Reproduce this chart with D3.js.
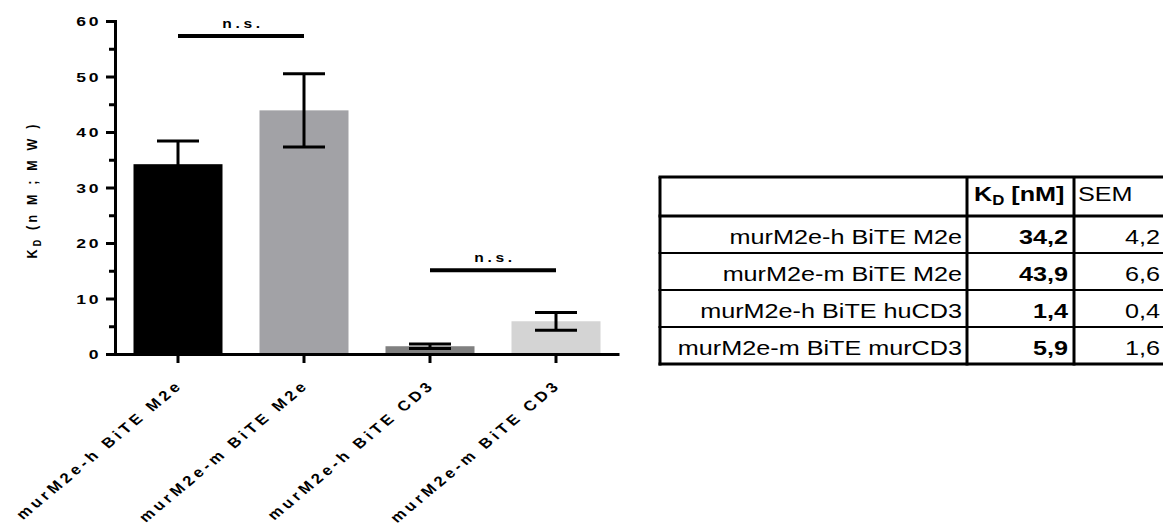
<!DOCTYPE html>
<html>
<head>
<meta charset="utf-8">
<script src="https://cdn.jsdelivr.net/npm/d3@7/dist/d3.min.js"></script>
<style>
  body { margin: 0; background: #fff; }
  svg { display: block; }
  text { font-family: "Liberation Sans", Arial, sans-serif; fill: #000; }
</style>
</head>
<body>
<svg id="chart" width="1163" height="529"></svg>
<script>
// Binding data: K_D per construct with SEM
const categories = ["murM2e-h BiTE M2e", "murM2e-m BiTE M2e", "murM2e-h BiTE CD3", "murM2e-m BiTE CD3"];
const kdValues = [34.2, 43.9, 1.4, 5.9];
const semValues = [4.2, 6.6, 0.4, 1.6];
const barColors = ["#000000", "#a2a2a6", "#808080", "#d4d4d4"];
const yTicks = [0, 10, 20, 30, 40, 50, 60];
const yMinorTicks = [5, 15, 25, 35, 45, 55];

// Significance brackets (pairs of category indices)
const sigPairs = [[0, 1], [2, 3]];
const sigLevels = [57.3, 15.1];
const sigLabels = ["n.s.", "n.s."];

// Summary table
const tableHeader = ["", "K", "SEM"];
const tableRows = ["murM2e-h BiTE M2e", "murM2e-m BiTE M2e", "murM2e-h BiTE huCD3", "murM2e-m BiTE murCD3"];
const tableKd = ["34,2", "43,9", "1,4", "5,9"];
const tableSem = ["4,2", "6,6", "0,4", "1,6"];

// Text in this figure is set slightly wide
const SX = 1.2;

const svg = d3.select("#chart");

const x = d3.scaleBand()
  .domain(categories)
  .range([115, 619])
  .paddingInner(37 / 126)
  .paddingOuter(37 / 252);

const y = d3.scaleLinear().domain([0, 60]).range([354, 21]);

const cx = i => x(categories[i]) + x.bandwidth() / 2;

// Bars
svg.append("g").selectAll("rect")
  .data(kdValues)
  .join("rect")
  .attr("x", (d, i) => x(categories[i]))
  .attr("width", x.bandwidth())
  .attr("y", d => y(d))
  .attr("height", d => y(0) - y(d))
  .attr("fill", (d, i) => barColors[i]);

// Error bars
const eb = svg.append("g").attr("stroke", "#000").attr("stroke-width", 3).attr("fill", "none");
kdValues.forEach((d, i) => {
  const hi = y(d + semValues[i]), lo = y(d - semValues[i]), c = cx(i);
  eb.append("line").attr("x1", c).attr("x2", c).attr("y1", hi).attr("y2", lo);
  eb.append("line").attr("x1", c - 21).attr("x2", c + 21).attr("y1", hi).attr("y2", hi);
  eb.append("line").attr("x1", c - 21).attr("x2", c + 21).attr("y1", lo).attr("y2", lo);
});

// Y axis: minor ticks, then major ticks with labels
const yMinor = svg.append("g").attr("transform", "translate(115,0)")
  .call(d3.axisLeft(y).tickValues(yMinorTicks).tickSize(6).tickSizeOuter(0).tickFormat(""));
const yMajor = svg.append("g").attr("transform", "translate(115,0)")
  .call(d3.axisLeft(y).tickValues(yTicks).tickSize(9).tickSizeOuter(0));
[yMinor, yMajor].forEach(g => {
  g.selectAll("path, line").attr("stroke", "#000").attr("stroke-width", 3);
  g.select(".domain").attr("stroke-linecap", "square");
});
yMajor.selectAll("text")
  .attr("x", 0)
  .attr("dy", "0.36em")
  .attr("transform", `translate(-14,0) scale(${SX + 0.1},1)`)
  .attr("font-family", "'Liberation Sans', Arial, sans-serif")
  .attr("font-size", 13.5).attr("font-weight", "bold")
  .attr("letter-spacing", 2).attr("fill", "#000");

// X axis
const xAxis = svg.append("g").attr("transform", "translate(0,354)")
  .call(d3.axisBottom(x).tickSize(9).tickSizeOuter(0).tickFormat(""));
xAxis.selectAll("path, line").attr("stroke", "#000").attr("stroke-width", 3);
xAxis.selectAll(".tick").append("text")
  .attr("transform", `translate(6,32) scale(${SX},1) rotate(-45)`)
  .attr("text-anchor", "end")
  .attr("fill", "#000")
  .attr("font-family", "'Liberation Sans', Arial, sans-serif")
  .attr("font-size", 14).attr("font-weight", "bold")
  .attr("letter-spacing", 3.3)
  .text(d => d);

// Y axis title
const yTitle = svg.append("text")
  .attr("transform", `translate(37,190) scale(${SX},1) rotate(-90)`)
  .attr("text-anchor", "middle")
  .attr("font-size", 12.5).attr("font-weight", "bold")
  .attr("letter-spacing", 3.2);
yTitle.append("tspan").text("K");
yTitle.append("tspan").attr("font-size", 9).attr("dy", 3).text("D");
yTitle.append("tspan").attr("dy", -3).text(" (n M ; M W )");

// Significance brackets
sigPairs.forEach((p, k) => {
  const yy = y(sigLevels[k]);
  svg.append("line")
    .attr("x1", cx(p[0])).attr("x2", cx(p[1]))
    .attr("y1", yy).attr("y2", yy)
    .attr("stroke", "#000").attr("stroke-width", 4);
  svg.append("text")
    .attr("transform", `translate(${(cx(p[0]) + cx(p[1])) / 2 + 2},${yy - 8}) scale(${SX},1)`)
    .attr("text-anchor", "middle")
    .attr("font-size", 13).attr("font-weight", "bold")
    .attr("letter-spacing", 3)
    .text(sigLabels[k]);
});

// Table
const tbl = svg.append("g");
const colX = [660, 967, 1074, 1175];
const rowY = [177, 216, 253, 290, 327, 364];
rowY.forEach((yy, i) => {
  tbl.append("line").attr("x1", colX[0] - 1.5).attr("x2", colX[3]).attr("y1", yy).attr("y2", yy)
    .attr("stroke", "#000")
    .attr("stroke-width", (i === 0 || i === 1 || i === rowY.length - 1) ? 3 : 2);
});
colX.slice(0, 3).forEach(xx => {
  tbl.append("line").attr("x1", xx).attr("x2", xx).attr("y1", rowY[0]).attr("y2", rowY[rowY.length - 1] + 1.5)
    .attr("stroke", "#000").attr("stroke-width", 3);
});

const cellText = (tx, ty, anchor) => tbl.append("text")
  .attr("transform", `translate(${tx},${ty}) scale(${SX},1)`)
  .attr("text-anchor", anchor)
  .attr("font-size", 21);

// Header row
const hdr = cellText(colX[1] + 7, 201, "start").attr("font-weight", "bold");
hdr.append("tspan").text(tableHeader[1]);
hdr.append("tspan").attr("font-size", 14).attr("dy", 4).text("D");
hdr.append("tspan").attr("dy", -4).text(" [nM]");
cellText(colX[2] + 4, 201, "start").text(tableHeader[2]);

tableRows.forEach((r, i) => {
  const base = rowY[i + 1] + 28;
  cellText(colX[1] - 5, base, "end").text(r);
  cellText(colX[2] - 6, base, "end").attr("font-weight", "bold").text(tableKd[i]);
  cellText(1160, base, "end").text(tableSem[i]);
});
</script>
</body>
</html>
